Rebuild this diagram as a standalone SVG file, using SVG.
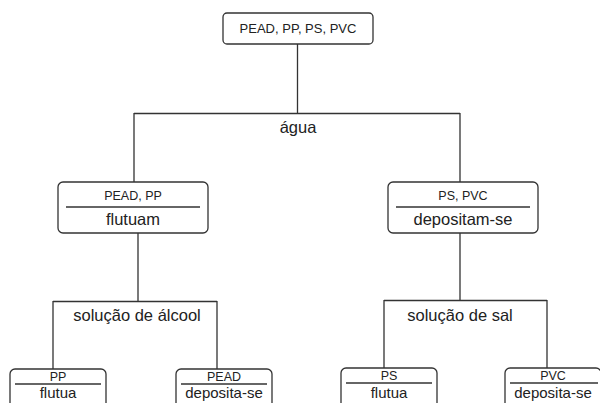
<svg xmlns="http://www.w3.org/2000/svg" width="600" height="403" viewBox="0 0 600 403">
<style>
.box{fill:#fff;stroke:#333;stroke-width:1.3}
.sep{stroke:#333;stroke-width:1.3}
.con{fill:none;stroke:#333;stroke-width:1.3}
text{font-family:"Liberation Sans",Arial,sans-serif;fill:#222;text-anchor:middle}
.s{font-size:12.5px}
.b{font-size:16.5px}
.bb{font-size:15px}
</style>
<rect width="600" height="403" fill="#fff"/>
<g id="connectors">
<path class="con" d="M297.5 44V113.5M134 113.5H460M134 113V182M460 113V182"/>
<path class="con" d="M138 233V301.5M53 301.5H217M53 301V369M217 301V369"/>
<path class="con" d="M460 233V300.5M384 300.5H547M384 300V368M547 300V368"/>
<text class="b" x="298" y="133">água</text>
<text class="b" x="137" y="321">solução de álcool</text>
<text class="b" x="460" y="321">solução de sal</text>
</g>
<g id="root">
<rect class="box" x="223" y="13" width="150" height="31" rx="4"/>
<text x="298" y="33" style="font-size:13px">PEAD, PP, PS, PVC</text>
</g>
<g id="pead-pp">
<rect class="box" x="58" y="182" width="150" height="51" rx="5"/>
<text class="s" x="133" y="200">PEAD, PP</text>
<line class="sep" x1="66" y1="207" x2="200" y2="207"/>
<text class="b" x="133" y="225">flutuam</text>
</g>
<g id="ps-pvc">
<rect class="box" x="388" y="182" width="150" height="51" rx="5"/>
<text class="s" x="463" y="200">PS, PVC</text>
<line class="sep" x1="396" y1="207" x2="530" y2="207"/>
<text class="b" x="463" y="225">depositam-se</text>
</g>
<g id="pp">
<rect class="box" x="10" y="369" width="96" height="50" rx="5"/>
<text class="s" x="58" y="381">PP</text>
<line class="sep" x1="15" y1="384" x2="101" y2="384"/>
<text class="bb" x="58" y="398">flutua</text>
</g>
<g id="pead">
<rect class="box" x="176" y="369" width="96" height="50" rx="5"/>
<text class="s" x="224" y="381">PEAD</text>
<line class="sep" x1="181" y1="384" x2="267" y2="384"/>
<text class="bb" x="224" y="398">deposita-se</text>
</g>
<g id="ps">
<rect class="box" x="341" y="368" width="96" height="50" rx="5"/>
<text class="s" x="389" y="380">PS</text>
<line class="sep" x1="346" y1="383" x2="432" y2="383"/>
<text class="bb" x="389" y="398">flutua</text>
</g>
<g id="pvc">
<rect class="box" x="505" y="368" width="96" height="50" rx="5"/>
<text class="s" x="553" y="380">PVC</text>
<line class="sep" x1="510" y1="383" x2="598" y2="383"/>
<text class="bb" x="553" y="398">deposita-se</text>
</g>
</svg>
